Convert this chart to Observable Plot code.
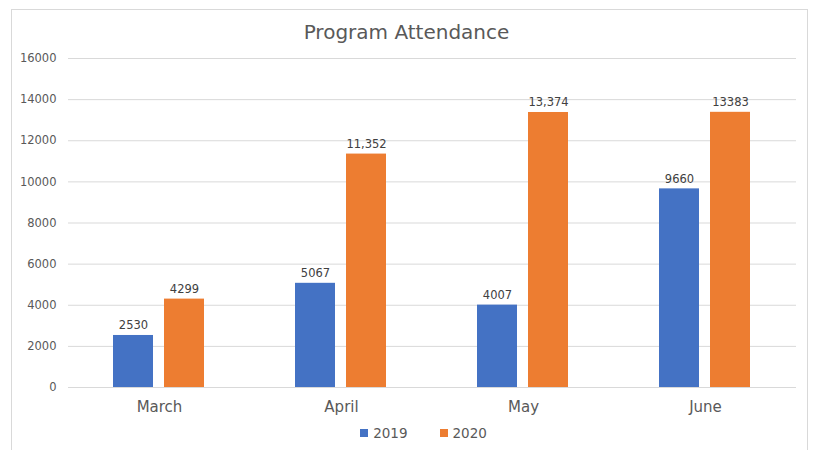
<!DOCTYPE html>
<html>
<head>
<meta charset="utf-8">
<script src="https://cdn.jsdelivr.net/npm/d3@7"></script>
<script src="https://cdn.jsdelivr.net/npm/@observablehq/plot@0.6"></script>
<style>
  html, body { margin: 0; padding: 0; background: #fff; }
  body { width: 813px; height: 450px; overflow: hidden; position: relative; font-family: "DejaVu Sans", sans-serif; }
  #frame { position: absolute; left: 11px; top: 9px; width: 797px; height: 470px; border: 1px solid #d9d9d9; box-sizing: border-box; }
  #wrap { position: absolute; left: 0; top: 0; width: 813px; }
  #title { height: 48px; line-height: 20px; padding-top: 22px; box-sizing: border-box; text-align: center; font-size: 20px; color: #595959; }
  #legend { display: flex; justify-content: center; font-size: 13.5px; color: #595959; height: 26px; align-items: center; padding-left: 34px; box-sizing: border-box; }
  .item { display: flex; align-items: center; margin: 0 16px; }
  .sw { width: 8px; height: 8px; margin-right: 5px; }
  svg { display: block; }
</style>
</head>
<body>
<div id="frame"></div>
<div id="wrap">
  <div id="title"></div>
  <div id="chart"></div>
  <div id="legend"></div>
</div>
<script>
const titleText = "Program Attendance";
const months = ["March", "April", "May", "June"];
const years = ["2019", "2020"];
const colors = ["#4472C4", "#ED7D31"];
const values2019 = [2530, 5067, 4007, 9660];
const values2020 = [4299, 11352, 13374, 13383];
const labels2019 = ["2530", "5067", "4007", "9660"];
const labels2020 = ["4299", "11,352", "13,374", "13383"];
const yTicks = [0, 2000, 4000, 6000, 8000, 10000, 12000, 14000, 16000];

const data = [];
months.forEach((m, i) => {
  data.push({month: m, year: years[0], value: values2019[i], label: labels2019[i]});
  data.push({month: m, year: years[1], value: values2020[i], label: labels2020[i]});
});

document.getElementById("title").textContent = titleText;

const chart = Plot.plot({
  width: 813,
  height: 372,
  marginLeft: 67,
  marginRight: 16,
  marginTop: 10,
  marginBottom: 33,
  style: {fontFamily: "DejaVu Sans, sans-serif", color: "#595959", background: "transparent"},
  fx: {domain: months, paddingInner: 0, paddingOuter: 0, label: null},
  x: {domain: years, paddingInner: 0.21, paddingOuter: 0.86, axis: null},
  y: {domain: [0, 16000], axis: null},
  color: {domain: years, range: colors},
  marks: [
    Plot.ruleY(yTicks, {stroke: "#d9d9d9", strokeWidth: 1}),
    Plot.barY(data, {fx: "month", x: "year", y: "value", fill: "year"}),
    Plot.text(data, {fx: "month", x: "year", y: "value", text: "label", lineAnchor: "bottom", dy: -6, fontSize: 11.5, fill: "#404040"}),
    Plot.axisY(yTicks, {tickSize: 0, tickPadding: 12, tickFormat: d => String(d), fontSize: 11.5, label: null, fill: "#595959"}),
    Plot.axisFx({anchor: "bottom", tickSize: 0, tickPadding: 14, fontSize: 15, label: null, fill: "#595959"})
  ]
});
document.getElementById("chart").appendChild(chart);

const legend = document.getElementById("legend");
years.forEach((y, i) => {
  const it = document.createElement("div");
  it.className = "item";
  const sw = document.createElement("div");
  sw.className = "sw";
  sw.style.background = colors[i];
  const t = document.createElement("span");
  t.textContent = y;
  it.appendChild(sw);
  it.appendChild(t);
  legend.appendChild(it);
});
</script>
</body>
</html>
